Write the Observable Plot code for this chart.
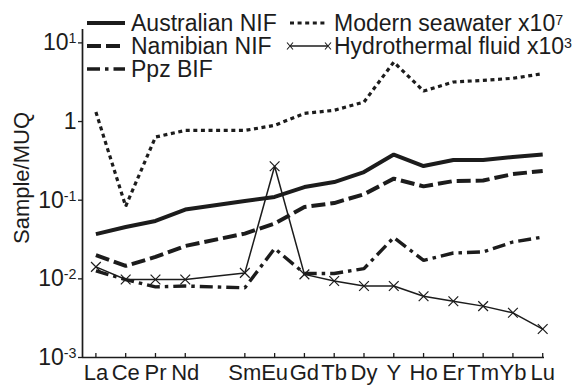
<!DOCTYPE html>
<html><head><meta charset="utf-8">
<script src="https://cdn.jsdelivr.net/npm/d3@7"></script>
<script src="https://cdn.jsdelivr.net/npm/@observablehq/plot@0.6"></script>
<style>
body{margin:0;background:#fff;}
#chart{position:relative;width:582px;height:387px;}
svg{overflow:visible;}
</style></head><body><div id="chart"></div>
<script>
// ---- data ----
const elements = ["La","Ce","Pr","Nd","Pm","Sm","Eu","Gd","Tb","Dy","Y","Ho","Er","Tm","Yb","Lu"];
const tickLabels = ["La","Ce","Pr","Nd","","Sm","Eu","Gd","Tb","Dy","Y","Ho","Er","Tm","Yb","Lu"];
const australianNIF = [0.037,0.0456,0.0544,0.076,null,0.0977,0.110,0.147,0.170,0.228,0.38,0.272,0.325,0.325,0.354,0.38];
const namibianNIF   = [0.020,0.0146,0.019,0.0262,null,0.0376,0.0504,0.082,0.092,0.119,0.188,0.150,0.175,0.178,0.215,0.235];
const ppzBIF        = [0.0126,0.0098,0.0079,0.0081,null,0.0077,0.0243,0.0117,0.0117,0.0135,0.0335,0.0172,0.0213,0.022,0.0294,0.034];
const modernSeawater= [1.32,0.0836,0.635,0.77,null,0.77,0.895,1.27,1.39,1.77,5.7,2.44,3.18,3.34,3.55,4.06];
const hydrothermal  = [0.0142,0.0098,0.0098,0.0098,null,0.0119,0.27,0.0114,0.0094,0.0081,0.0081,0.0060,0.0052,0.0045,0.0037,0.0023];
const yTickValues = [10,1,0.1,0.01,0.001];
const yTickExponents = ["1","","-1","-2","-3"];
const yLabel = "Sample/MUQ";

// ---- styles ----
const INK = "#1c1c1c";
const FONT = "'Liberation Sans', Arial, Helvetica, sans-serif";
const styles = {
  "Australian NIF": {strokeWidth: 4, dash: null},
  "Namibian NIF": {strokeWidth: 4, dash: "14,5"},
  "Ppz BIF": {strokeWidth: 3.4, dash: "13,5,3.5,5"},
  "Modern seawater": {strokeWidth: 3.2, dash: "4,3.6"},
  "Hydrothermal fluid": {strokeWidth: 1.5, dash: null}
};
const series = [
  {name: "Australian NIF", values: australianNIF},
  {name: "Namibian NIF", values: namibianNIF},
  {name: "Ppz BIF", values: ppzBIF},
  {name: "Modern seawater", values: modernSeawater},
  {name: "Hydrothermal fluid", values: hydrothermal}
];
const rowsOf = vals => vals.map((v, i) => ({i, v})).filter(d => d.v != null);

const W = 582, H = 387, mL = 82, mR = 38, mT = 29, mB = 30;
const xMin = -0.45, xMax = 15.06, yMin = 1e-3, yMax = 14.8;

const marks = [
  Plot.ruleY([yMin], {stroke: INK, strokeWidth: 1.7}),
  Plot.ruleX([xMin], {stroke: INK, strokeWidth: 1.7}),
  Plot.axisX({ticks: tickLabels.map((t, i) => t ? i : null).filter(i => i != null),
    tickFormat: i => tickLabels[i], tickSize: -4, tickPadding: 11, label: null,
    stroke: INK, strokeWidth: 1.3, fill: INK, fontSize: "22px"}),
  Plot.axisY({ticks: yTickValues, tickFormat: v => (v === 1 ? "1" : "10"),
    tickSize: 4, tickPadding: 2, label: null, stroke: INK, strokeWidth: 1.3, fill: INK, fontSize: "23px"})
];
for (const s of series) {
  const st = styles[s.name];
  marks.push(Plot.line(rowsOf(s.values), {x: "i", y: "v", stroke: INK, strokeWidth: st.strokeWidth,
    strokeDasharray: st.dash, strokeLinejoin: "miter", strokeLinecap: "butt"}));
}
marks.push(Plot.dot(rowsOf(hydrothermal), {x: "i", y: "v", symbol: "times", r: 4.5, stroke: INK, strokeWidth: 1.2}));

const chart = Plot.plot({
  width: W, height: H, marginLeft: mL, marginRight: mR, marginTop: mT, marginBottom: mB,
  style: {fontFamily: FONT, fontSize: "22px", color: INK, background: "#fff", overflow: "visible"},
  x: {type: "linear", domain: [xMin, xMax]},
  y: {type: "log", domain: [yMin, yMax]},
  marks
});
document.getElementById("chart").appendChild(chart);

const svg = d3.select(chart);
// superscripts on y tick labels
svg.selectAll('g[aria-label="y-axis tick label"] text').each(function(_, k) {
  const e = yTickExponents[k];
  if (!e) return;
  d3.select(this).append("tspan").attr("dy", "-0.48em").attr("font-size", "0.62em").text(e);
});
// y label
svg.append("text").attr("transform", "translate(21,178) rotate(-90)")
  .attr("text-anchor", "middle").attr("dy", "0.36em")
  .attr("font-family", FONT).style("font-size", "22px").attr("fill", INK).text(yLabel);

// legend
const legend = svg.append("g").attr("font-family", FONT).attr("font-size", 23).style("font-size", "23px")
  .attr("fill", INK).attr("text-anchor", "start");
const legendItems = [
  {name: "Australian NIF", label: "Australian NIF", sup: null, col: 0, row: 0},
  {name: "Modern seawater", label: "Modern seawater x10", sup: "7", col: 1, row: 0},
  {name: "Namibian NIF", label: "Namibian NIF", sup: null, col: 0, row: 1},
  {name: "Hydrothermal fluid", label: "Hydrothermal fluid x10", sup: "3", col: 1, row: 1},
  {name: "Ppz BIF", label: "Ppz BIF", sup: null, col: 0, row: 2}
];
const colX = [87, 290], sampleLen = 38, rowBase = [31, 54, 77];
for (const it of legendItems) {
  const st = styles[it.name];
  const x0 = colX[it.col], yb = rowBase[it.row], yc = yb - 8;
  legend.append("line").attr("x1", x0).attr("x2", x0 + sampleLen).attr("y1", yc).attr("y2", yc)
    .attr("stroke", INK).attr("stroke-width", st.strokeWidth).attr("stroke-dasharray", st.dash);
  if (it.name === "Hydrothermal fluid") {
    for (const mx of [x0, x0 + sampleLen]) {
      legend.append("path").attr("d", `M${mx-3},${yc-3.5}L${mx+3},${yc+3.5}M${mx-3},${yc+3.5}L${mx+3},${yc-3.5}`)
        .attr("stroke", INK).attr("stroke-width", 1.1);
    }
  }
  const t = legend.append("text").attr("x", x0 + sampleLen + 6).attr("y", yb).attr("text-anchor", "start").text(it.label);
  if (it.sup) t.append("tspan").attr("dy", "-0.45em").attr("font-size", "0.62em").text(it.sup);
}
</script></body></html>
